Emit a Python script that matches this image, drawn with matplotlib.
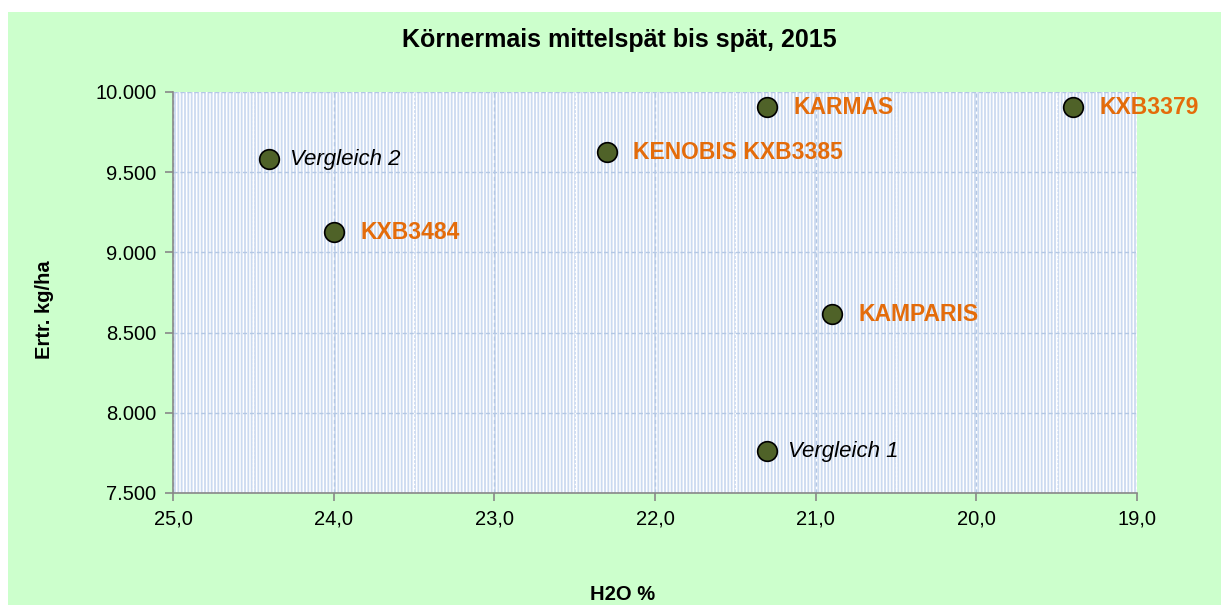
import matplotlib

matplotlib.use("Agg")
import matplotlib.pyplot as plt
from matplotlib.patches import Rectangle
from matplotlib.ticker import FuncFormatter, MultipleLocator

plt.rcParams["font.family"] = ["Liberation Sans", "DejaVu Sans"]
plt.rcParams["hatch.linewidth"] = 1.3

# data
names = ["KARMAS", "KXB3379", "KENOBIS KXB3385", "Vergleich 2", "KXB3484", "KAMPARIS", "Vergleich 1"]
moisture = [21.3, 19.4, 22.3, 24.4, 24.0, 20.9, 21.3]
yield_kg = [9905, 9905, 9625, 9580, 9125, 8615, 7760]
is_reference = [False, False, False, True, False, False, True]

W, H = 1221, 605
fig = plt.figure(figsize=(W / 100, H / 100), dpi=100)
fig.patch.set_facecolor("white")
fig.add_artist(Rectangle((8 / W, 0), 1 - 8 / W, 1 - 12 / H, transform=fig.transFigure,
                         facecolor="#CCFFCC", edgecolor="none", zorder=-10))

ax = fig.add_axes([173 / W, 1 - 493 / H, (1137 - 173) / W, (493 - 92) / H])
ax.set_facecolor("white")
ax.add_patch(Rectangle((0, 0), 1, 1, transform=ax.transAxes, facecolor="none",
                       edgecolor="#CBDAF0", hatch="|" * 5, linewidth=0, zorder=0))

ax.set_xlim(25, 19)
ax.set_ylim(7500, 10000)
ax.xaxis.set_major_locator(MultipleLocator(1))
ax.xaxis.set_minor_locator(MultipleLocator(0.5))
ax.yaxis.set_major_locator(MultipleLocator(500))
ax.xaxis.set_major_formatter(FuncFormatter(lambda v, p: f"{v:.1f}".replace(".", ",")))
ax.yaxis.set_major_formatter(FuncFormatter(lambda v, p: f"{int(v):,}".replace(",", ".")))

ax.grid(True, which="major", color="#B4C8E4", linestyle=(0, (3, 2)), linewidth=1.0, zorder=1)
ax.grid(True, which="minor", axis="x", color="white", linestyle=(0, (1, 2)), linewidth=1.0, zorder=1)
ax.set_axisbelow(True)

for side in ["top", "right"]:
    ax.spines[side].set_visible(False)
for side in ["left", "bottom"]:
    ax.spines[side].set_color("#888888")
    ax.spines[side].set_linewidth(1.2)
ax.tick_params(which="major", direction="out", length=6, width=1.2, color="#888888",
               labelsize=14.5, labelcolor="black", pad=6)
ax.tick_params(which="minor", length=0)

ax.scatter(moisture, yield_kg, s=200, color="#4F6228", edgecolor="black", linewidth=1.2,
           zorder=5, clip_on=False)

for name, x, y, ref in zip(names, moisture, yield_kg, is_reference):
    if ref:
        style = dict(color="black", fontstyle="italic", fontsize=16, xytext=(15, 0))
    else:
        style = dict(color="#E46C0A", fontweight="bold", fontsize=16.5, xytext=(19, 0))
    ax.annotate(name, (x, y), textcoords="offset points",
                va="center", ha="left", annotation_clip=False, zorder=6, **style)

fig.text(619 / W, 1 - 40 / H, "Körnermais mittelspät bis spät, 2015", ha="center", va="center",
         fontsize=18, fontweight="bold")
fig.text(45 / W, 1 - 310 / H, "Ertr. kg/ha", rotation=90, ha="center", va="center",
         fontsize=14.5, fontweight="bold")
fig.text(623 / W, 0.5 / H, "H2O %", ha="center", va="bottom", fontsize=14.5, fontweight="bold")

fig.savefig("out.png", dpi=100)
